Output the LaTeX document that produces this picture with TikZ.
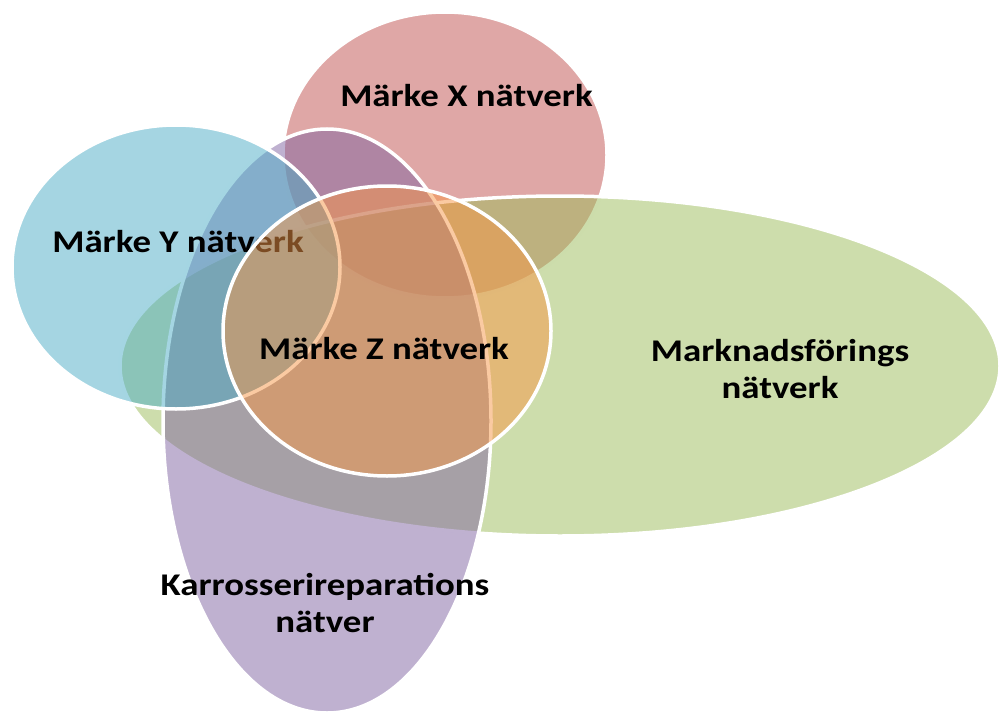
\documentclass[tikz,border=0pt]{standalone}
\usepackage{fontspec}
\setmainfont{Carlito}
\definecolor{redc}{HTML}{C0504D}
\definecolor{greenc}{HTML}{9BBB59}
\definecolor{bluec}{HTML}{4BACC6}
\definecolor{purplec}{HTML}{8064A2}
\definecolor{orangec}{HTML}{F79646}
\begin{document}
\begin{tikzpicture}[x=1pt,y=-1pt,
  venn/.style={draw=white, line width=3.5pt, fill opacity=0.5},
  lbl/.style={font=\fontsize{31.6}{37}\selectfont\bfseries, text=black, inner sep=0pt, align=center, xscale=1.166}]
\useasboundingbox (0,0) rectangle (1000,714);
% Märke X
\path[venn, fill=redc] (445,155) ellipse [x radius=162pt, y radius=143pt];
\node[lbl, anchor=base] (tx) at (466.5,107) {Märke X nätverk};
% Marknadsförings
\path[venn, fill=greenc] (560,366) ellipse [x radius=440pt, y radius=170pt];
\node[lbl, anchor=base] (tm) at (780,398) {Marknadsförings\\nätverk};
% Karrosserireparations
\path[venn, fill=purplec] (327,421) ellipse [x radius=164pt, y radius=292pt];
\node[lbl, anchor=base] (tk) at (325,632) {Karrosserireparations\\nätver};
% Märke Y
\path[venn, fill=bluec] (176,267) ellipse [x radius=164pt, y radius=142pt];
\node[lbl, anchor=base] (ty) at (178,252) {Märke Y nätverk};
% Märke Z
\path[venn, fill=orangec] (387,331) ellipse [x radius=164pt, y radius=145pt];
\node[lbl, anchor=base] (tz) at (384,359) {Märke Z nätverk};
\end{tikzpicture}
\end{document}
